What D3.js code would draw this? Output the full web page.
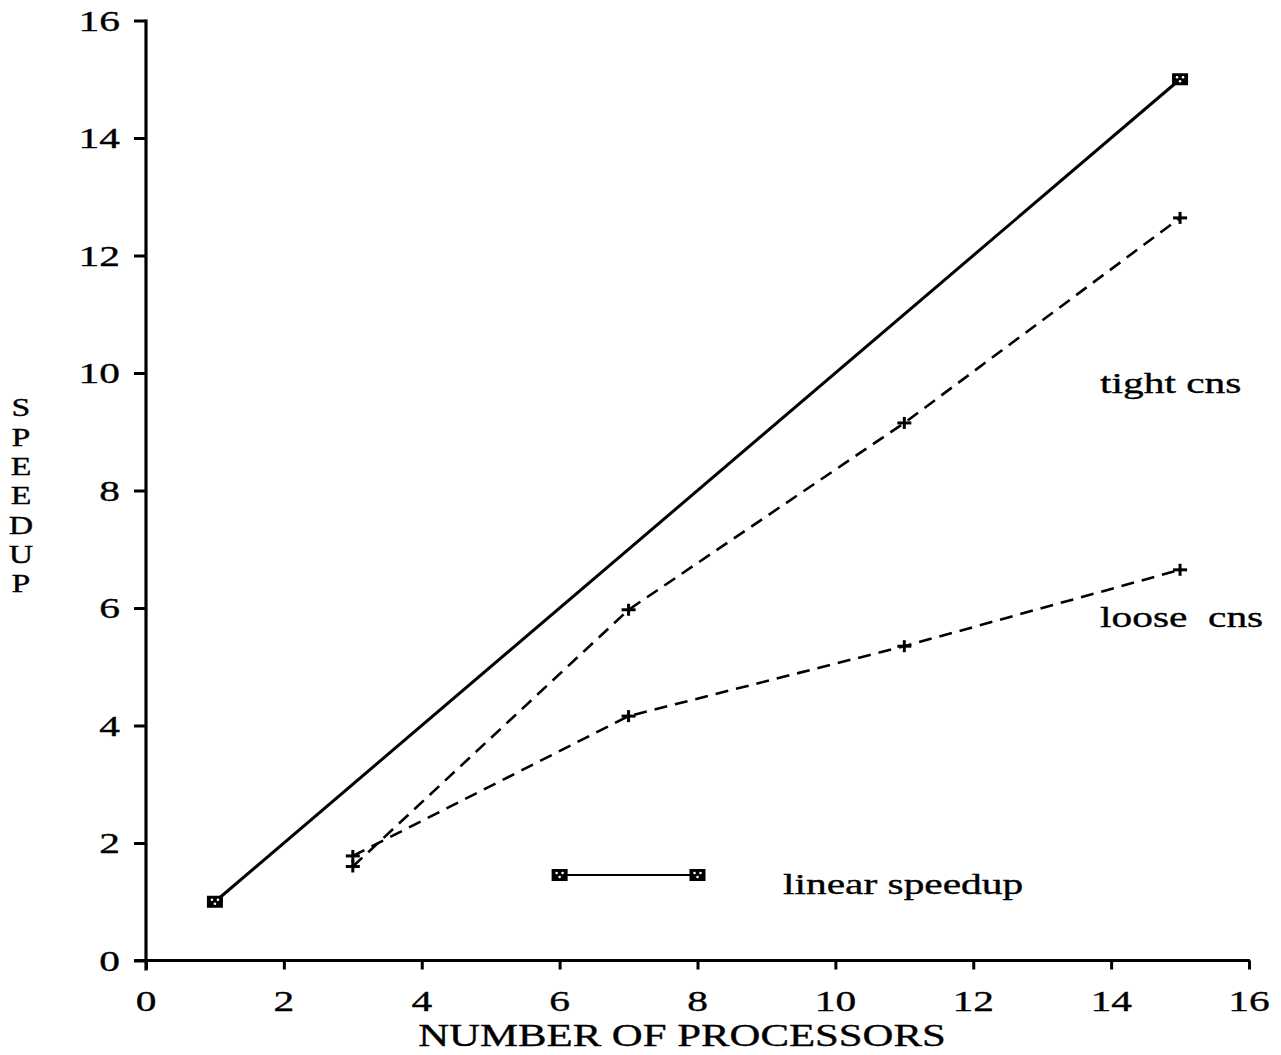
<!DOCTYPE html>
<html>
<head>
<meta charset="utf-8">
<script src="https://cdn.jsdelivr.net/npm/d3@7"></script>
<style>
  html, body { margin: 0; padding: 0; background: #fff; }
  svg { display: block; }
  text { font-family: "Liberation Serif", "Times New Roman", serif; fill: #000; stroke: #000; stroke-width: 0.35; }
</style>
</head>
<body>
<svg id="chart" width="1281" height="1055"></svg>
<script>
// ---------- data ----------
const xTicks = [0, 2, 4, 6, 8, 10, 12, 14, 16];
const yTicks = [0, 2, 4, 6, 8, 10, 12, 14, 16];

const linearX = [1, 15];
const linearY = [1, 15];

const tightX = [3, 7, 11, 15];
const tightY = [1.6, 5.97, 9.15, 12.64];

const looseX = [3, 7, 11, 15];
const looseY = [1.78, 4.16, 5.35, 6.65];

const legendX = [6, 8];
const legendY = [1.455, 1.455];

const xTitle = "NUMBER OF PROCESSORS";
const yTitle = "SPEEDUP";
const legendLabel = "linear speedup";
const tightLabel = "tight cns";
const looseLabel = "loose  cns";

// ---------- layout ----------
const svg = d3.select("#chart");
const x = d3.scaleLinear().domain([0, 16]).range([146, 1249]);
const y = d3.scaleLinear().domain([0, 16]).range([960.5, 20.5]);
const SX = 1.38; // horizontal stretch of the glyphs

function stretchText(parent, px, py, str, anchor, size, sx) {
  const g = parent.append("g").attr("transform", `translate(${px},${py}) scale(${sx || SX},1)`);
  const t = g.append("text")
    .attr("x", 0).attr("y", 0)
    .attr("text-anchor", anchor)
    .attr("font-size", size)
    .style("white-space", "pre")
    .attr("xml:space", "preserve")
    .text(str);
  return t;
}

// axes
const yAxis = d3.axisLeft(y).tickValues(yTicks).tickSize(12).tickFormat("");
const xAxis = d3.axisBottom(x).tickValues(xTicks).tickSize(9).tickFormat("");

const gy = svg.append("g").attr("transform", `translate(${x(0)},0)`).call(yAxis);
const gx = svg.append("g").attr("transform", `translate(0,${y(0)})`).call(xAxis);
[gy, gx].forEach(g => {
  g.select(".domain").remove();
  g.selectAll(".tick line").attr("stroke", "#000").attr("stroke-width", 3);
});

// axis lines
svg.append("line").attr("x1", x(0)).attr("x2", x(0)).attr("y1", y(16) - 1).attr("y2", y(0) + 10)
  .attr("stroke", "#000").attr("stroke-width", 3.2);
svg.append("line").attr("x1", x(0) - 12).attr("x2", x(16) + 1).attr("y1", y(0)).attr("y2", y(0))
  .attr("stroke", "#000").attr("stroke-width", 3.2);

// tick labels
yTicks.forEach(v => stretchText(svg, x(0) - 26, y(v) + 10, String(v), "end", 30));
xTicks.forEach(v => stretchText(svg, x(v), 1011, String(v), "middle", 30));

// axis titles
stretchText(svg, 682, 1046, xTitle, "middle", 31);
stretchText(svg, 21, 393, yTitle, "start", 26, 1.3)
  .style("writing-mode", "vertical-rl")
  .style("text-orientation", "upright")
  .style("letter-spacing", "0px");

// lines
const line = d3.line().x(d => x(d[0])).y(d => y(d[1]));
const linearPts = linearX.map((v, i) => [v, linearY[i]]);
const tightPts = tightX.map((v, i) => [v, tightY[i]]);
const loosePts = looseX.map((v, i) => [v, looseY[i]]);
const legendPts = legendX.map((v, i) => [v, legendY[i]]);

svg.append("path").datum(linearPts).attr("d", line)
  .attr("fill", "none").attr("stroke", "#000").attr("stroke-width", 3);
svg.append("path").datum(legendPts).attr("d", line)
  .attr("fill", "none").attr("stroke", "#000").attr("stroke-width", 2.2);
[tightPts, loosePts].forEach(pts => {
  svg.append("path").datum(pts).attr("d", line)
    .attr("fill", "none").attr("stroke", "#000").attr("stroke-width", 2.6)
    .attr("stroke-dasharray", "13,8");
});

// square markers
function squareMarkers(pts) {
  const g = svg.append("g");
  pts.forEach(p => {
    const cx = x(p[0]), cy = y(p[1]);
    g.append("rect").attr("x", cx - 8).attr("y", cy - 6).attr("width", 16).attr("height", 12)
      .attr("fill", "#000");
    [[-3, -2], [3, -2], [0, 2]].forEach(o => {
      g.append("circle").attr("cx", cx + o[0]).attr("cy", cy + o[1]).attr("r", 1.3).attr("fill", "#fff");
    });
  });
}
squareMarkers(linearPts);
squareMarkers(legendPts);

// plus markers
function plusMarkers(pts) {
  const g = svg.append("g");
  pts.forEach(p => {
    const cx = x(p[0]), cy = y(p[1]);
    g.append("line").attr("x1", cx - 7).attr("x2", cx + 7).attr("y1", cy).attr("y2", cy)
      .attr("stroke", "#000").attr("stroke-width", 3);
    g.append("line").attr("x1", cx).attr("x2", cx).attr("y1", cy - 6).attr("y2", cy + 6)
      .attr("stroke", "#000").attr("stroke-width", 3);
  });
}
plusMarkers(tightPts);
plusMarkers(loosePts);

// labels
stretchText(svg, 783, 894, legendLabel, "start", 30);
stretchText(svg, 1100, 393, tightLabel, "start", 30);
stretchText(svg, 1100, 627, looseLabel, "start", 30);
</script>
</body>
</html>
